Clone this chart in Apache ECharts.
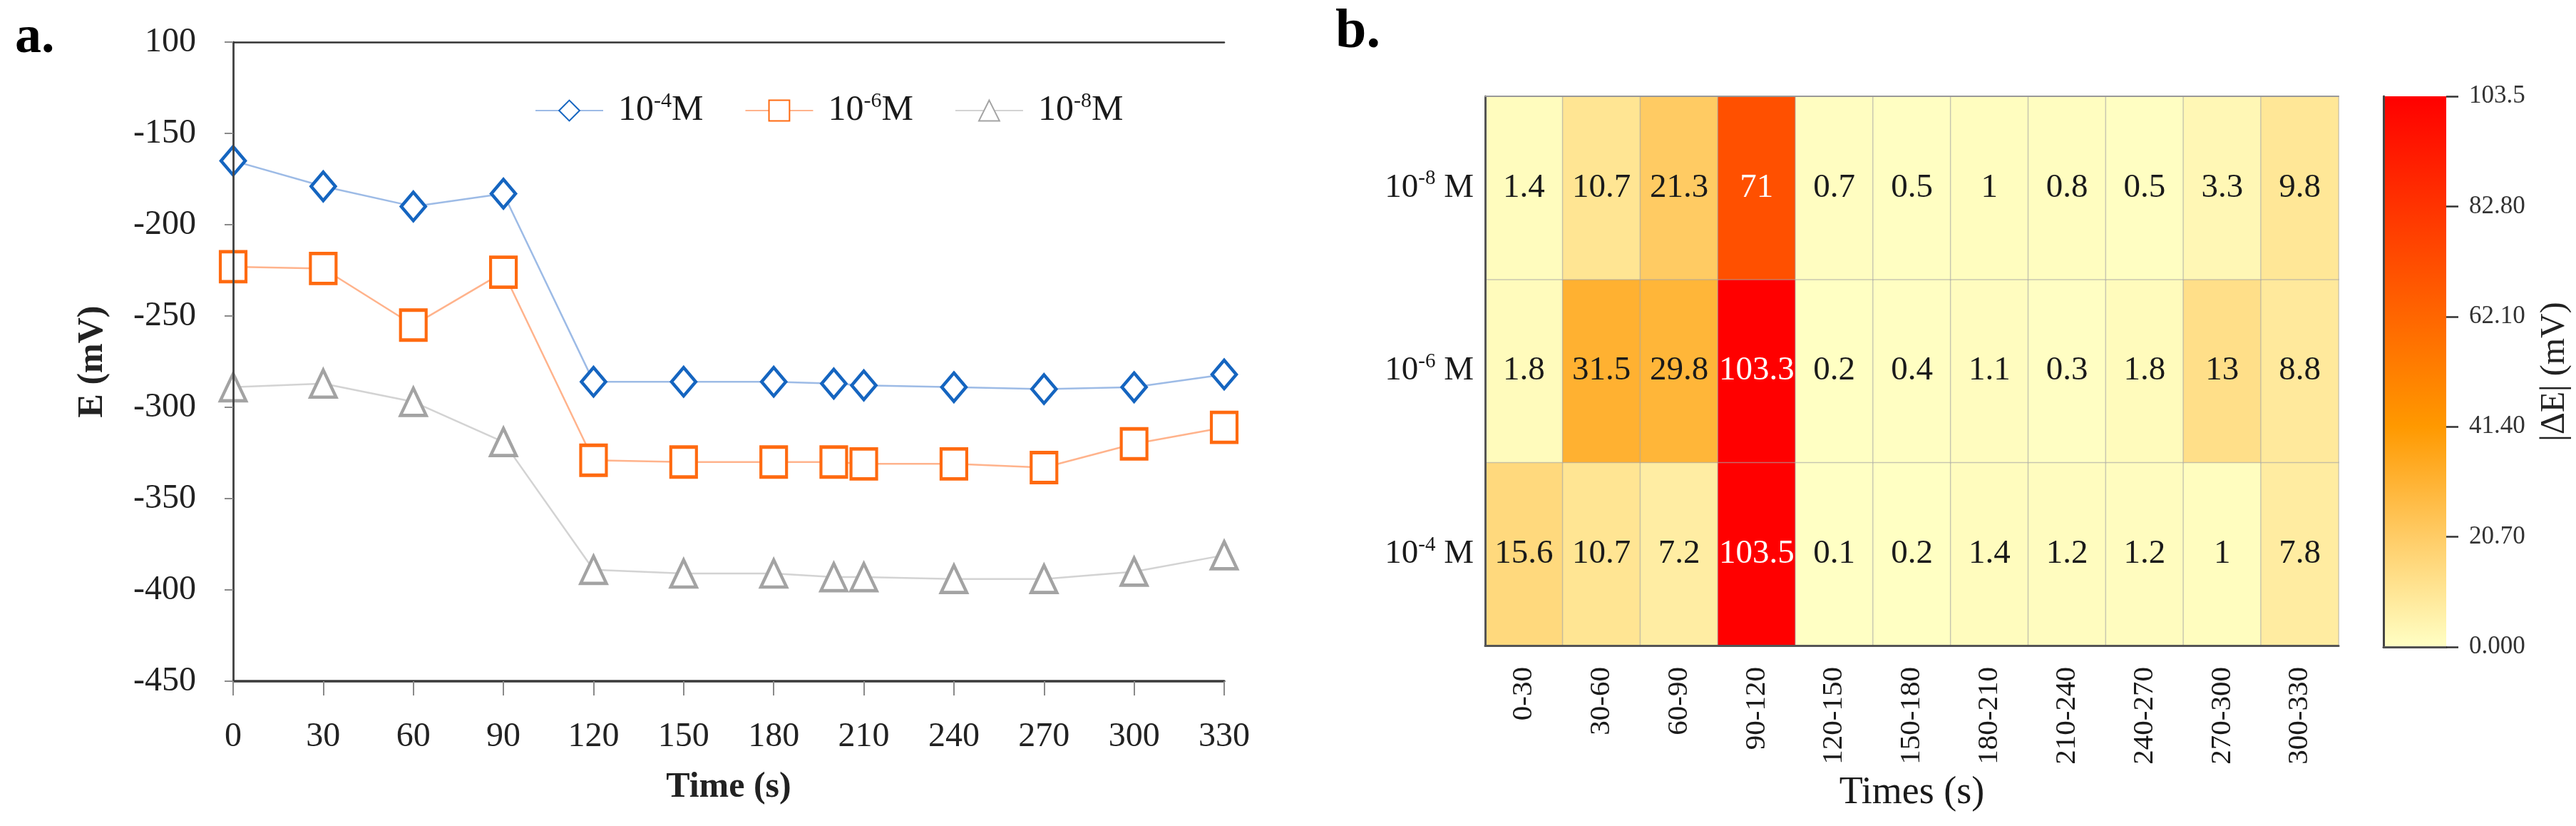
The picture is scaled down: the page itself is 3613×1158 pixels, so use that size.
<!DOCTYPE html>
<html>
<head>
<meta charset="utf-8">
<script src="https://cdn.jsdelivr.net/npm/echarts@6/dist/echarts.min.js"></script>
<style>
	html, body {margin:0; padding:0; background:#fff;}
	#chart {width:3613px; height:1158px;}
</style>
</head>
<body>
<div id="chart"></div>
<script>
// panel a: potential vs time
var times = [0, 30, 60, 90, 120, 150, 180, 200, 210, 240, 270, 300, 330];
var potential4 = [-165, -179, -190, -183, -286, -286, -286, -287, -288, -289, -290, -289, -282];
var potential6 = [-223, -224, -255, -226, -329, -330, -330, -330, -331, -331, -333, -320, -311];
var potential8 = [-289, -287, -297, -319, -389, -391, -391, -393, -393, -394, -394, -390, -381];
var exponents = ['-4', '-6', '-8'];

// panel b: |dE| per interval
var intervals = ['0-30', '30-60', '60-90', '90-120', '120-150', '150-180', '180-210', '210-240', '240-270', '270-300', '300-330'];
var rowExponents = ['-4', '-6', '-8'];
var delta4 = [15.6, 10.7, 7.2, 103.5, 0.1, 0.2, 1.4, 1.2, 1.2, 1, 7.8];
var delta6 = [1.8, 31.5, 29.8, 103.3, 0.2, 0.4, 1.1, 0.3, 1.8, 13, 8.8];
var delta8 = [1.4, 10.7, 21.3, 71, 0.7, 0.5, 1, 0.8, 0.5, 3.3, 9.8];
var scaleMin = 0;
var scaleMax = 103.5;
var scaleStep = 20.7;
var heatColors = ['#ffffc4', '#ffcc66', '#ff9900', '#ff6600', '#ff3300', '#ff0000'];

var serif = 'Liberation Serif';

var dom = document.getElementById("chart");
var myChart = echarts.init(dom);

function pairs(xs, ys) {
	var out = [];
	for (var i = 0; i < xs.length; i++) {
		out.push([xs[i], ys[i]]);
	}
	return out;
}

var heatData = [];
[delta4, delta6, delta8].forEach(function (row, r) {
	row.forEach(function (v, c) {
		heatData.push({
			value: [c, r, v],
			label: {color: v > 60 ? '#ffffff' : '#1a1a1a'}
		});
	});
});

var gradientStops = heatColors.map(function (c, i) {
	return {offset: 1 - i / (heatColors.length - 1), color: c};
}).reverse();

var supRich = {
	b: {fontFamily: serif, fontSize: 47, color: '#1a1a1a', lineHeight: 54},
	s: {fontFamily: serif, fontSize: 29, color: '#1a1a1a', verticalAlign: 'top', lineHeight: 30}
};
var legendRich = {
	b: {fontFamily: serif, fontSize: 50, color: '#1a1a1a', lineHeight: 56},
	s: {fontFamily: serif, fontSize: 30, color: '#1a1a1a', verticalAlign: 'top', lineHeight: 30}
};

var lineSeries = [
	{exp: exponents[0], data: potential4, symbol: 'diamond', size: [34, 40], mark: '#1565c0', line: '#9dbbe6'},
	{exp: exponents[1], data: potential6, symbol: 'rect', size: [36, 42], mark: '#ff6a10', line: '#ffb38c'},
	{exp: exponents[2], data: potential8, symbol: 'triangle', size: [36, 38], mark: '#a3a3a3', line: '#d3d3d3'}
].map(function (s) {
	return {
		name: '10^' + s.exp + 'M',
		type: 'line',
		xAxisIndex: 0,
		yAxisIndex: 0,
		data: pairs(times, s.data),
		symbol: s.symbol,
		symbolSize: s.size,
		showAllSymbol: true,
		lineStyle: {color: s.line, width: 2.5},
		itemStyle: {color: '#ffffff', borderColor: s.mark, borderWidth: 4.5},
		emphasis: {disabled: true},
		z: 3
	};
});

var option = {
	backgroundColor: '#ffffff',
	animation: false,
	textStyle: {fontFamily: serif},
	title: [
		{text: 'a.', left: 16, top: 12, textStyle: {fontFamily: serif, fontSize: 74, fontWeight: 'bold', color: '#000'}},
		{text: 'b.', left: 1868, top: 2, textStyle: {fontFamily: serif, fontSize: 78, fontWeight: 'bold', color: '#000'}}
	],
	legend: {
		data: lineSeries.map(function (s) { return s.name; }),
		left: 745,
		top: 122,
		itemWidth: 95,
		itemHeight: 36,
		itemGap: 58,
		formatter: function (name) {
			var exp = name.split('^')[1].replace('M', '');
			return '{b|10}{s|' + exp + '}{b|M}';
		},
		textStyle: {rich: legendRich, padding: [0, 0, 0, 16]}
	},
	grid: [
		{left: 327, top: 59, width: 1390, height: 896, outerBoundsMode: 'none'},
		{left: 2083, top: 135, width: 1197, height: 770, outerBoundsMode: 'none'},
		{left: 3343, top: 135, width: 88, height: 772, outerBoundsMode: 'none'}
	],
	xAxis: [
		{
			gridIndex: 0, type: 'value', min: 0, max: 330, interval: 30, z: 5,
			axisLine: {lineStyle: {color: '#3a3a3a', width: 3.5}},
			axisTick: {length: 20, lineStyle: {color: '#8a8a8a', width: 2}},
			axisLabel: {margin: 54, fontFamily: serif, fontSize: 48, color: '#222'},
			splitLine: {show: false},
			name: 'Time (s)', nameLocation: 'middle', nameGap: 124,
			nameTextStyle: {fontFamily: serif, fontSize: 50, fontWeight: 'bold', color: '#222'}
		},
		{
			gridIndex: 0, type: 'value', position: 'top', min: 0, max: 330, z: 5,
			axisLine: {lineStyle: {color: '#333', width: 2.5}},
			axisTick: {show: false}, axisLabel: {show: false}, splitLine: {show: false}
		},
		{
			gridIndex: 1, type: 'category', data: intervals, z: 5,
			axisLine: {lineStyle: {color: '#555', width: 3}},
			axisTick: {alignWithLabel: true, length: 10, lineStyle: {color: '#999', width: 2}},
			axisLabel: {rotate: 90, margin: 30, fontFamily: serif, fontSize: 41, color: '#1a1a1a', interval: 0},
			name: 'Times (s)', nameLocation: 'middle', nameGap: 180,
			nameTextStyle: {fontFamily: serif, fontSize: 54, color: '#1a1a1a'}
		},
		{
			gridIndex: 1, type: 'category', data: intervals, position: 'top', z: 5,
			axisLine: {lineStyle: {color: '#999', width: 2}},
			axisTick: {show: false}, axisLabel: {show: false}
		},
		{
			gridIndex: 2, type: 'category', data: [''], z: 5,
			axisLine: {lineStyle: {color: '#444', width: 3}},
			axisTick: {show: false}, axisLabel: {show: false}
		},
		{
			gridIndex: 2, type: 'category', data: [''], position: 'top', z: 5,
			axisLine: {lineStyle: {color: '#555', width: 2}},
			axisTick: {show: false}, axisLabel: {show: false}
		}
	],
	yAxis: [
		{
			gridIndex: 0, type: 'value', min: -450, max: -100, interval: 50, z: 5,
			axisLine: {show: true, lineStyle: {color: '#444', width: 2.5}},
			axisTick: {show: true, length: 12, lineStyle: {color: '#8a8a8a', width: 2}},
			axisLabel: {
				margin: 52, fontFamily: serif, fontSize: 48, color: '#222',
				formatter: function (v) { return v === -100 ? '100' : String(v); }
			},
			splitLine: {show: false},
			name: 'E (mV)', nameLocation: 'middle', nameGap: 172, nameRotate: 90,
			nameTextStyle: {fontFamily: serif, fontSize: 50, fontWeight: 'bold', color: '#222'}
		},
		{
			gridIndex: 0, type: 'value', position: 'right', min: -450, max: -100, z: 5,
			axisLine: {show: true, lineStyle: {color: '#444', width: 2.5}},
			axisTick: {show: false}, axisLabel: {show: false}, splitLine: {show: false}
		},
		{
			gridIndex: 1, type: 'category', z: 5,
			data: rowExponents.map(function (e) { return '10^' + e; }),
			axisLine: {lineStyle: {color: '#555', width: 3}},
			axisTick: {alignWithLabel: true, length: 10, lineStyle: {color: '#999', width: 2}},
			axisLabel: {
				margin: 16,
				formatter: function (v) { return '{b|10}{s|' + v.split('^')[1] + '}{b| M}'; },
				rich: supRich
			}
		},
		{
			gridIndex: 2, type: 'value', position: 'right', min: scaleMin, max: scaleMax, interval: scaleStep, z: 5,
			axisLine: {show: false},
			axisTick: {show: true, length: 17, lineStyle: {color: '#333', width: 2.5}},
			axisLabel: {
				margin: 32, fontFamily: serif, fontSize: 35, color: '#333',
				formatter: function (v) { return v.toPrecision(4); }
			},
			splitLine: {show: false},
			name: '|ΔE| (mV)', nameLocation: 'middle', nameGap: 128, nameRotate: 90,
			nameTextStyle: {fontFamily: serif, fontSize: 48, color: '#222'}
		},
		{
			gridIndex: 2, type: 'value', position: 'left', min: scaleMin, max: scaleMax, z: 5,
			axisLine: {show: true, lineStyle: {color: '#444', width: 3}},
			axisTick: {show: false}, axisLabel: {show: false}, splitLine: {show: false}
		}
	],
	visualMap: {
		show: false,
		type: 'continuous',
		seriesIndex: 3,
		min: scaleMin,
		max: scaleMax,
		inRange: {color: heatColors}
	},
	series: lineSeries.concat([
		{
			type: 'heatmap',
			xAxisIndex: 2,
			yAxisIndex: 2,
			data: heatData,
			label: {show: true, fontFamily: serif, fontSize: 47},
			itemStyle: {borderColor: 'rgba(165,165,165,0.55)', borderWidth: 1.5},
			emphasis: {disabled: true}
		},
		{
			type: 'bar',
			xAxisIndex: 4,
			yAxisIndex: 3,
			data: [scaleMax],
			barWidth: '100%',
			itemStyle: {color: new echarts.graphic.LinearGradient(0, 0, 0, 1, gradientStops)},
			emphasis: {disabled: true}
		}
	])
};

if (option && typeof option === "object") {
	myChart.setOption(option, true);
}
</script>
</body>
</html>
